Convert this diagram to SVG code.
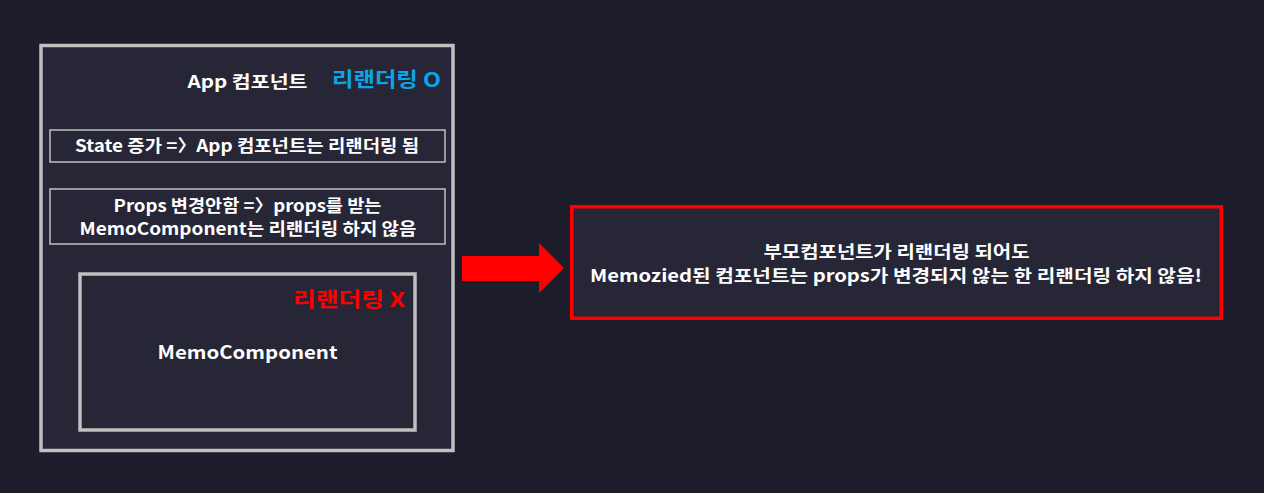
<svg xmlns="http://www.w3.org/2000/svg" width="1264" height="493" viewBox="0 0 1264 493">
<style>
text{font-family:"Noto Sans CJK KR","Noto Sans",sans-serif;font-weight:700;fill:#ffffff;text-anchor:middle}
.box{fill:#272636;stroke:#c0c0c0}
.lbl{font-size:17px}
.tag{font-size:20px;font-weight:700}
</style>
<rect width="1264" height="493" fill="#1c1c2a"/>
<g id="app">
<rect class="box" x="41" y="45.5" width="412" height="405" stroke-width="3.5"/>
<text class="lbl" x="247.5" y="88" textLength="120" lengthAdjust="spacingAndGlyphs">App 컴포넌트</text>
<text class="tag" x="441" y="87" style="text-anchor:end;fill:#0aa6e8" textLength="109" lengthAdjust="spacingAndGlyphs">리랜더링 O</text>
</g>
<g id="state">
<rect class="box" x="50" y="130" width="395" height="32" stroke-width="1.5"/>
<text class="lbl" x="247" y="152" textLength="344" lengthAdjust="spacingAndGlyphs">State 증가 =〉App 컴포넌트는 리랜더링 됨</text>
</g>
<g id="props">
<rect class="box" x="50" y="189" width="395" height="55" stroke-width="1.5"/>
<text class="lbl" x="247.5" y="212" textLength="268" lengthAdjust="spacingAndGlyphs">Props 변경안함 =〉props를 받는</text>
<text class="lbl" x="248" y="235" textLength="337" lengthAdjust="spacingAndGlyphs">MemoComponent는 리랜더링 하지 않음</text>
</g>
<g id="memo">
<rect class="box" x="80" y="274" width="335" height="156" stroke-width="3.5"/>
<text class="tag" x="405" y="307" style="text-anchor:end;fill:#ff0000" textLength="112" lengthAdjust="spacingAndGlyphs">리랜더링 X</text>
<text class="lbl" x="247.5" y="359" style="font-size:18px" textLength="180" lengthAdjust="spacingAndGlyphs">MemoComponent</text>
</g>
<g id="connectors">
<polygon points="462,256 539,256 539,243 564,268 539,293 539,281 462,281" fill="#ff0000"/>
</g>
<g id="note">
<rect x="571.75" y="206.75" width="649.5" height="111.5" fill="#272636" stroke="#ff0000" stroke-width="3.5"/>
<text class="lbl" x="896.5" y="258" textLength="266" lengthAdjust="spacingAndGlyphs">부모컴포넌트가 리랜더링 되어도</text>
<text class="lbl" x="896" y="282" textLength="612" lengthAdjust="spacingAndGlyphs">Memozied된 컴포넌트는 props가 변경되지 않는 한 리랜더링 하지 않음!</text>
</g>
</svg>
